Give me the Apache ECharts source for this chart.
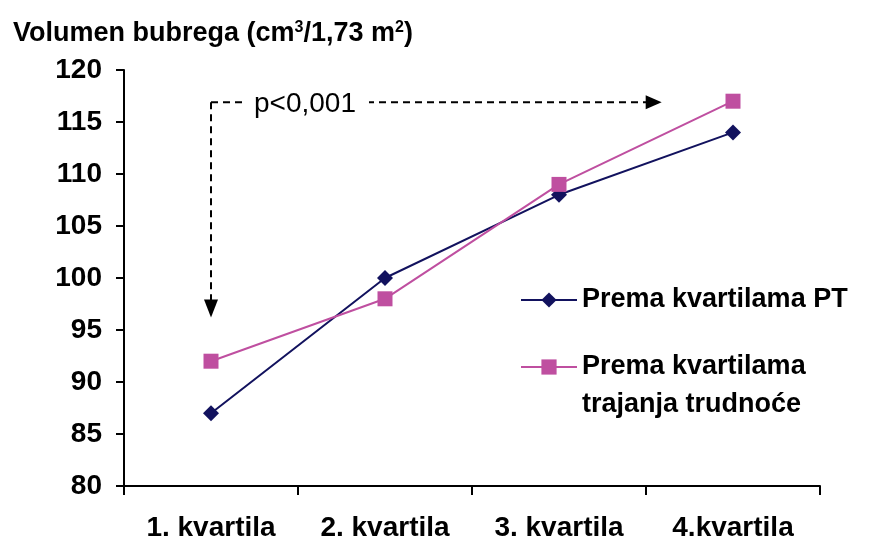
<!DOCTYPE html>
<html>
<head>
<meta charset="utf-8">
<script src="https://cdn.jsdelivr.net/npm/echarts@6/dist/echarts.min.js"></script>
<style>
  html, body { margin: 0; padding: 0; background: #fff; }
  #chart { width: 875px; height: 542px; }
</style>
</head>
<body>
<div id="chart"></div>
<script>
const categories = ["1. kvartila", "2. kvartila", "3. kvartila", "4.kvartila"];
const seriesNames = ["Prema kvartilama PT", "Prema kvartilama\ntrajanja trudnoće"];
const ptValues = [87, 100, 108, 114];
const trudnoceValues = [92, 98, 109, 117];
const yMin = 80;
const yMax = 120;
const yStep = 5;
// annotation anchors in data units: [category index, value]
const arrowCorner = [0, 116.9];
const arrowDownTip = [0, 96.2];
const arrowRightTip = [2.59, 116.9];
const pLabel = "p<0,001";

const font = "Liberation Sans, Arial, sans-serif";
const navy = "#12125e";
const magenta = "#bf4fa0";
const legendText = { fontFamily: font, fontSize: 27, fontWeight: "bold", color: "#000" };

const option = {
  animation: false,
  backgroundColor: "#fff",
  title: {
    text: "Volumen bubrega (cm{sup|3}/1,73 m{sup|2})",
    left: 8,
    top: 15,
    textStyle: {
      fontFamily: font,
      fontSize: 27,
      fontWeight: "bold",
      color: "#000",
      rich: {
        sup: { fontFamily: font, fontSize: 16, fontWeight: "bold", color: "#000", verticalAlign: "top", padding: [0, 0, 11, 0] },
      },
    },
  },
  grid: { left: 124, right: 55, top: 70, bottom: 55, containLabel: false },
  legend: [
    {
      orient: "vertical",
      left: 520,
      top: 285,
      padding: 0,
      itemWidth: 56,
      itemHeight: 19,
      data: [{ name: seriesNames[0] }],
      textStyle: Object.assign({ lineHeight: 30 }, legendText),
    },
    {
      orient: "vertical",
      left: 520,
      top: 310,
      padding: 0,
      itemWidth: 56,
      itemHeight: 19,
      data: [{ name: seriesNames[1] }],
      // leading blank line keeps the marker level with the first text line
      formatter: (name) => "\n" + name,
      textStyle: Object.assign({ lineHeight: 38 }, legendText),
    },
  ],
  xAxis: {
    type: "category",
    data: categories,
    boundaryGap: true,
    axisLine: { lineStyle: { color: "#000", width: 2 } },
    axisTick: { show: true, length: 9, lineStyle: { color: "#000", width: 2 } },
    axisLabel: { fontFamily: font, fontSize: 28, fontWeight: "bold", color: "#000", margin: 28 },
  },
  yAxis: {
    type: "value",
    min: yMin,
    max: yMax,
    interval: yStep,
    axisLine: { show: true, lineStyle: { color: "#000", width: 2 } },
    axisTick: { show: true, length: 8, lineStyle: { color: "#000", width: 2 } },
    axisLabel: { fontFamily: font, fontSize: 28, fontWeight: "bold", color: "#000", margin: 22 },
    splitLine: { show: false },
  },
  series: [
    {
      name: seriesNames[0],
      type: "line",
      data: ptValues,
      symbol: "diamond",
      symbolSize: 16,
      lineStyle: { color: navy, width: 2 },
      itemStyle: { color: navy },
    },
    {
      name: seriesNames[1],
      type: "line",
      data: trudnoceValues,
      symbol: "rect",
      symbolSize: 15,
      lineStyle: { color: magenta, width: 2 },
      itemStyle: { color: magenta },
    },
  ],
};

const chart = echarts.init(document.getElementById("chart"));
chart.setOption(option);

// category axis does not interpolate, so work out fractional positions by hand
function toPixel(pt) {
  const i = Math.floor(pt[0]);
  const f = pt[0] - i;
  const a = chart.convertToPixel("grid", [i, pt[1]]);
  if (f === 0) return a;
  const b = chart.convertToPixel("grid", [i + 1, pt[1]]);
  return [a[0] + (b[0] - a[0]) * f, a[1]];
}

const c = toPixel(arrowCorner);
const d = toPixel(arrowDownTip);
const r = toPixel(arrowRightTip);
const dash = { stroke: "#000", lineWidth: 2, lineDash: [7, 5], fill: null };
chart.setOption({
  graphic: [
    { type: "polyline", shape: { points: [[c[0], c[1]], [c[0], d[1] - 16]] }, style: dash },
    { type: "polygon", shape: { points: [[c[0] - 7, d[1] - 18], [c[0] + 7, d[1] - 18], [c[0], d[1]]] }, style: { fill: "#000" } },
    { type: "polyline", shape: { points: [[c[0], c[1]], [r[0] - 14, r[1]]] }, style: dash },
    { type: "polygon", shape: { points: [[r[0] - 16, r[1] - 7], [r[0] - 16, r[1] + 7], [r[0], r[1]]] }, style: { fill: "#000" } },
    {
      type: "text",
      x: c[0] + 31,
      y: c[1] + 2,
      style: {
        text: pLabel,
        font: "28px " + font,
        fill: "#000",
        verticalAlign: "middle",
        backgroundColor: "#fff",
        padding: [0, 13, 0, 12],
      },
    },
  ],
});
</script>
</body>
</html>
